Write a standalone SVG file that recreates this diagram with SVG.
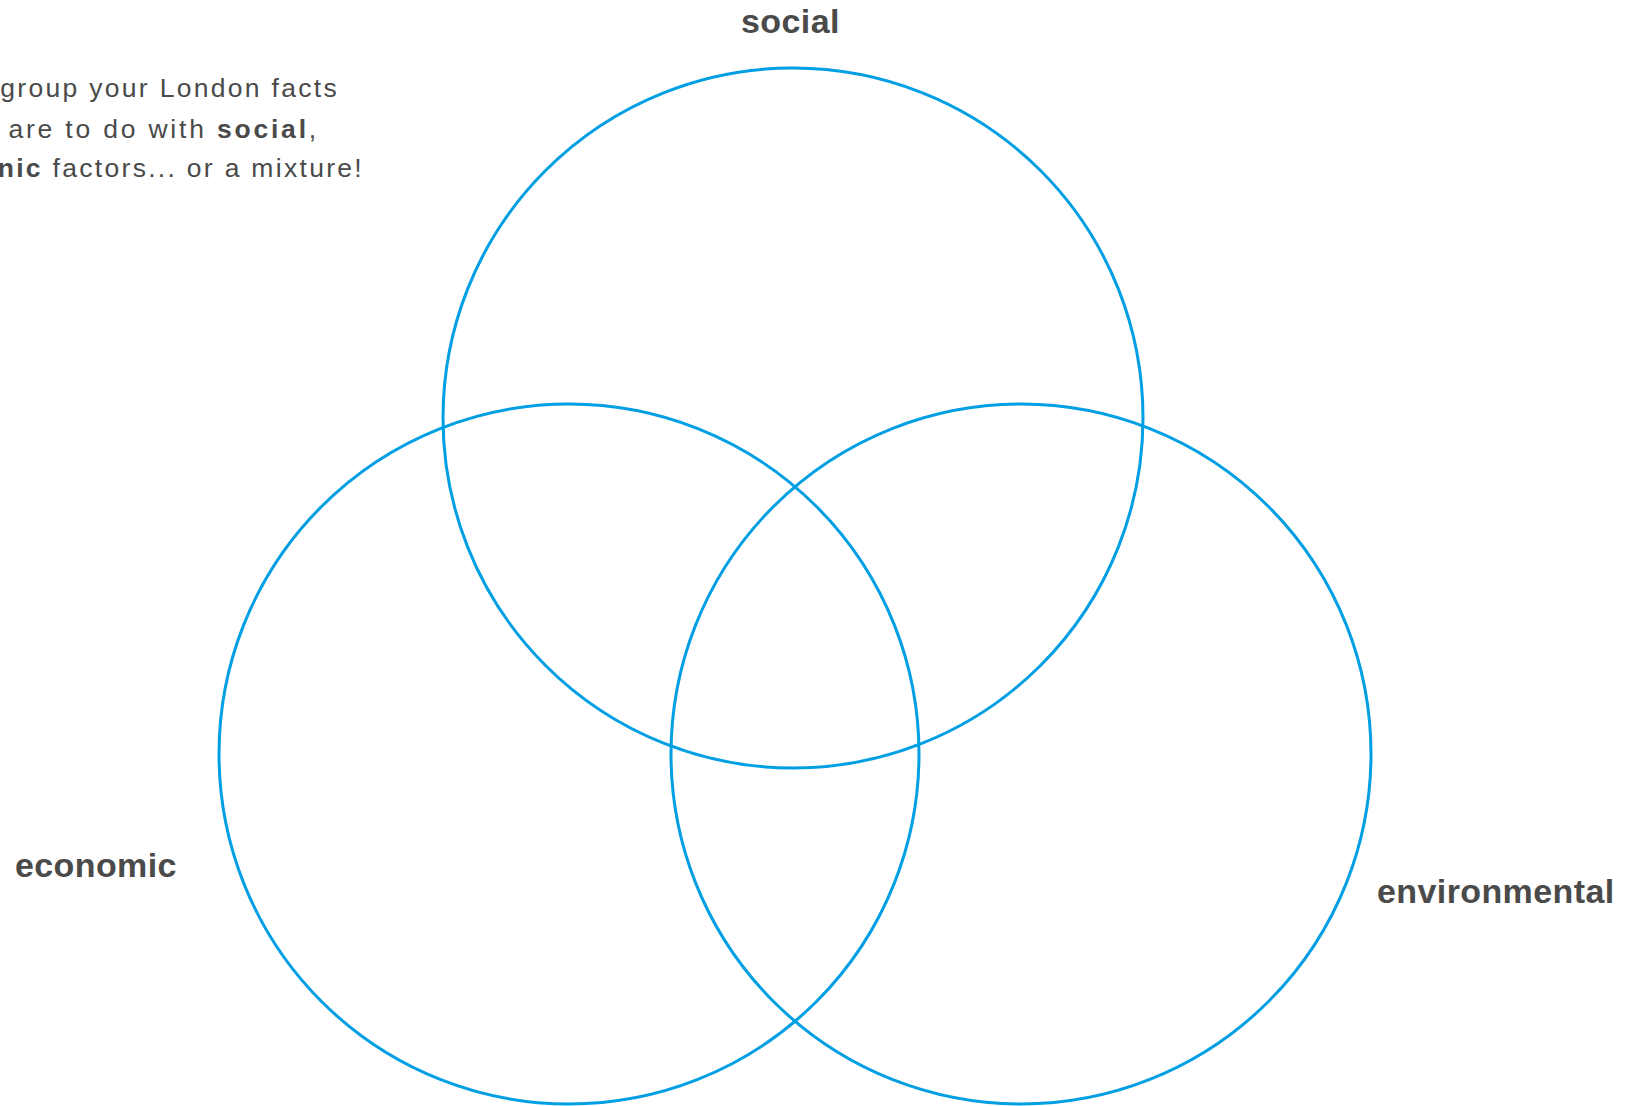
<svg xmlns="http://www.w3.org/2000/svg" width="1640" height="1106" viewBox="0 0 1640 1106">
<style>
.c{fill:none;stroke:#009fe3;stroke-width:3}
.lbl{font-family:"Liberation Sans",Arial,sans-serif;font-weight:bold;font-size:34px;fill:#4a4a4a;letter-spacing:0.4px}
.body{font-family:"Liberation Sans",Arial,sans-serif;font-size:26.5px;fill:#4a4a4a;letter-spacing:2.3px}
.b{font-weight:bold}
</style>
<rect width="1640" height="1106" fill="#ffffff"/>
<g id="intro">
<text class="body" x="339" y="97" text-anchor="end">group your London facts</text>
<text class="body" x="319" y="138" text-anchor="end" style="letter-spacing:2.8px">are to do with <tspan class="b">social</tspan>,</text>
<text class="body" x="364" y="177" text-anchor="end"><tspan class="b">nic</tspan> factors... or a mixture!</text>
</g>
<g id="connectors"></g>
<g id="social">
<circle class="c" cx="793" cy="418" r="350"/>
<text class="lbl" x="741" y="33">social</text>
</g>
<g id="economic">
<circle class="c" cx="569" cy="754" r="350"/>
<text class="lbl" x="15" y="877">economic</text>
</g>
<g id="environmental">
<circle class="c" cx="1021" cy="754" r="350"/>
<text class="lbl" x="1377" y="903">environmental</text>
</g>
</svg>
